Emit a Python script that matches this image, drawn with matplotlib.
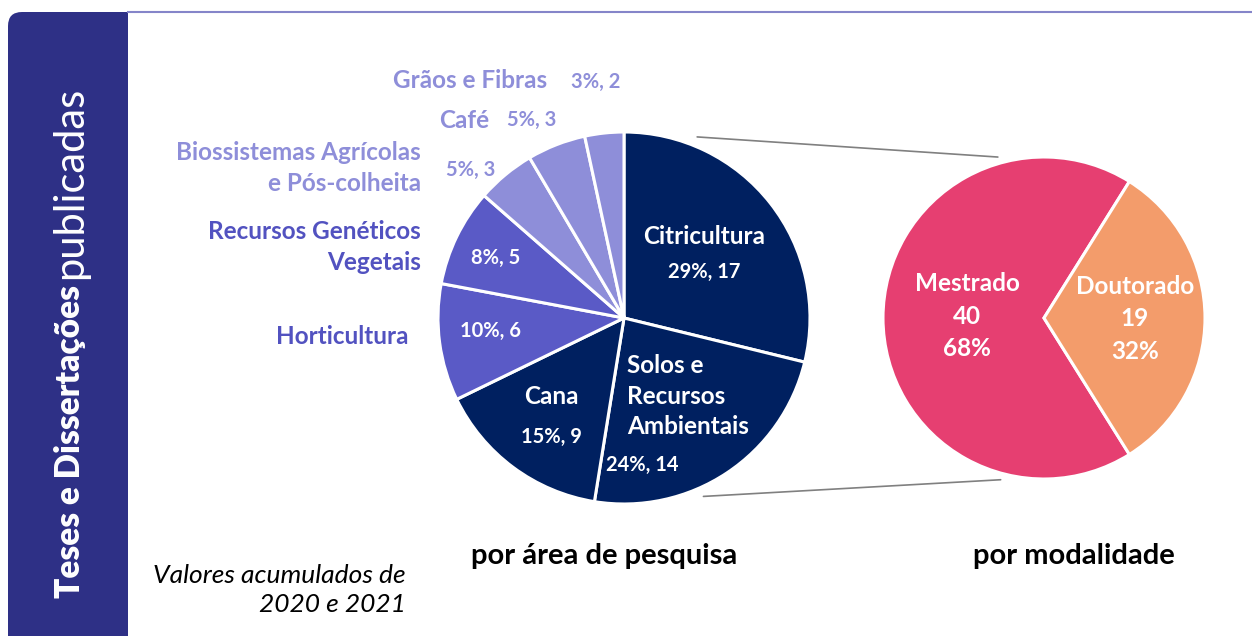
import matplotlib.pyplot as plt
from matplotlib.patches import FancyBboxPatch, Rectangle, ConnectionPatch
import numpy as np

plt.rcParams['font.family'] = ['Lato', 'DejaVu Sans']

# dados
areas = ['Citricultura', 'Solos e\nRecursos\nAmbientais', 'Cana', 'Horticultura',
         'Recursos Genéticos\nVegetais', 'Biossistemas Agrícolas\ne Pós-colheita',
         'Café', 'Grãos e Fibras']
area_vals = [17, 14, 9, 6, 5, 3, 3, 2]
area_colors = ['#002060', '#002060', '#002060', '#5A5AC6', '#5A5AC6',
               '#8E8ED9', '#8E8ED9', '#8E8ED9']
modalidades = ['Mestrado', 'Doutorado']
mod_vals = [40, 19]
mod_colors = ['#E63F71', '#F39C6B']

W, H = 1252, 636
fig = plt.figure(figsize=(W / 100, H / 100), dpi=100)

# fundo em pixels
bg = fig.add_axes([0, 0, 1, 1])
bg.set_xlim(0, W)
bg.set_ylim(H, 0)
bg.axis('off')

band = '#2E3086'
bg.add_patch(FancyBboxPatch((8 + 14, 12 + 14), 120 - 28, 700, boxstyle='round,pad=14',
                            fc=band, ec='none'))
bg.add_patch(Rectangle((70, 12), 58, 640, fc=band, ec='none'))
bg.plot([128, W], [12, 12], color='#8585C9', lw=1.5)


def axes_for(cx, cy, r):
    return fig.add_axes([(cx - r) / W, (H - cy - r) / H, 2 * r / W, 2 * r / H])


# pizza por área
ax1 = axes_for(624, 318, 186)
ax1.pie(area_vals, colors=area_colors, startangle=90, counterclock=False, radius=1,
        wedgeprops=dict(edgecolor='white', linewidth=2.2))
ax1.set_xlim(-1, 1)
ax1.set_ylim(-1, 1)
ax1.axis('off')

# pizza por modalidade
ax2 = axes_for(1044, 318, 161)
total_mod = sum(mod_vals)
ax2.pie(mod_vals, colors=mod_colors, startangle=360 * mod_vals[1] / total_mod / 2,
        counterclock=True, radius=1, wedgeprops=dict(edgecolor='white', linewidth=2.2))
ax2.set_xlim(-1, 1)
ax2.set_ylim(-1, 1)
ax2.axis('off')

# linhas de ligação
for a1, a2 in [(68, 106), (-66, -105)]:
    r1, r2 = 1.05, 1.04
    p1 = (r1 * np.cos(np.radians(a1)), r1 * np.sin(np.radians(a1)))
    p2 = (r2 * np.cos(np.radians(a2)), r2 * np.sin(np.radians(a2)))
    fig.add_artist(ConnectionPatch(p1, p2, coordsA=ax1.transData, coordsB=ax2.transData,
                                   color='#808080', lw=1.2))

# camada de textos por cima
top = fig.add_axes([0, 0, 1, 1])
top.set_xlim(0, W)
top.set_ylim(H, 0)
top.axis('off')
top.patch.set_alpha(0)

t1 = top.text(70, 598, 'Teses e Dissertações', rotation=90, color='white', fontsize=24,
              fontweight='heavy', ha='center', va='bottom')
top.annotate('publicadas', xy=(0.5, 1), xycoords=t1, xytext=(0, 4), textcoords='offset points',
             rotation=90, color='white', fontsize=30, fontweight='normal', ha='center', va='bottom')

total = sum(area_vals)
pct = [round(v / total * 100) for v in area_vals]
lbl = ['%d%%, %d' % (p, v) for p, v in zip(pct, area_vals)]

light = '#8E8ED9'
mid = '#5252C0'
big = 17.5
small = 14.5
ls = 1.4

# rótulos
top.text(704, 237, areas[0], color='white', fontsize=big, fontweight='bold', ha='center', va='center')
top.text(704, 272, lbl[0], color='white', fontsize=small, fontweight='bold', ha='center', va='center')
top.text(627, 396, areas[1], color='white', fontsize=big, fontweight='bold', ha='left', va='center',
         linespacing=ls)
top.text(642, 465, lbl[1], color='white', fontsize=small, fontweight='bold', ha='center', va='center')
top.text(551, 396, areas[2], color='white', fontsize=big, fontweight='bold', ha='center', va='center')
top.text(551, 437, lbl[2], color='white', fontsize=small, fontweight='bold', ha='center', va='center')
top.text(408, 336, areas[3], color=mid, fontsize=big, fontweight='bold', ha='right', va='center')
top.text(491, 331, lbl[3], color='white', fontsize=small, fontweight='bold', ha='center', va='center')
top.text(421, 247, areas[4], color=mid, fontsize=big, fontweight='bold', ha='right', va='center',
         linespacing=ls)
top.text(496, 258, lbl[4], color='white', fontsize=small, fontweight='bold', ha='center', va='center')
top.text(421, 168, areas[5], color=light, fontsize=big, fontweight='bold', ha='right', va='center',
         linespacing=ls)
top.text(471, 170, lbl[5], color=light, fontsize=small, fontweight='bold', ha='center', va='center')
top.text(464, 120, areas[6], color=light, fontsize=big, fontweight='bold', ha='center', va='center')
top.text(532, 120, lbl[6], color=light, fontsize=small, fontweight='bold', ha='center', va='center')
top.text(470, 80, areas[7], color=light, fontsize=big, fontweight='bold', ha='center', va='center')
top.text(596, 82, lbl[7], color=light, fontsize=small, fontweight='bold', ha='center', va='center')

mpct = [round(v / total_mod * 100) for v in mod_vals]
top.text(967, 316, '%s\n%d\n%d%%' % (modalidades[0], mod_vals[0], mpct[0]), color='white',
         fontsize=big, fontweight='bold', ha='center', va='center', linespacing=1.5)
top.text(1135, 319, '%s\n%d\n%d%%' % (modalidades[1], mod_vals[1], mpct[1]), color='white',
         fontsize=big, fontweight='bold', ha='center', va='center', linespacing=1.5)

top.text(604, 556, 'por área de pesquisa', color='black', fontsize=21, fontweight='bold',
         ha='center', va='center')
top.text(1074, 556, 'por modalidade', color='black', fontsize=21, fontweight='bold',
         ha='center', va='center')
top.text(406, 590, 'Valores acumulados de\n2020 e 2021', color='black', fontsize=19,
         style='italic', ha='right', va='center', linespacing=1.3)

fig.savefig('out.png', dpi=100)
